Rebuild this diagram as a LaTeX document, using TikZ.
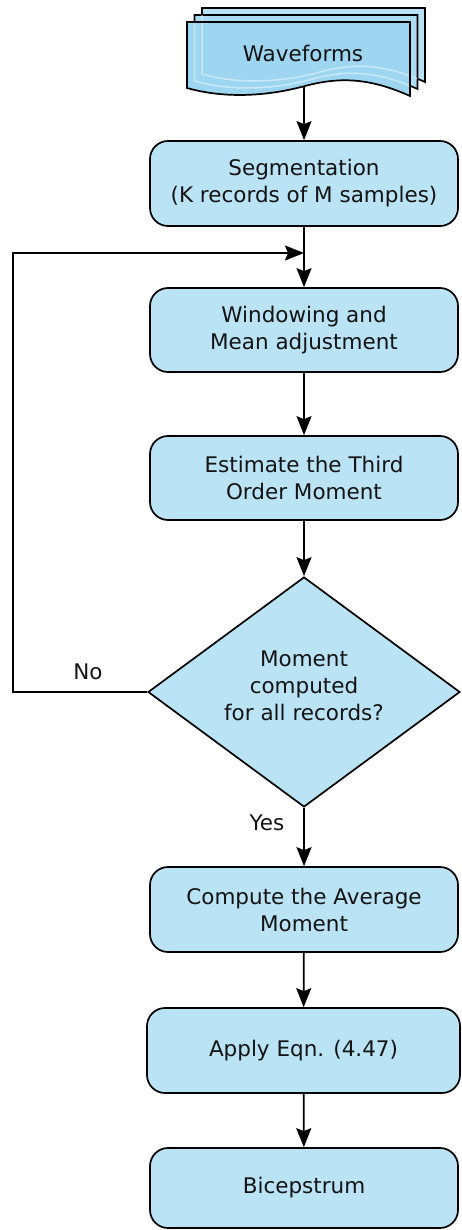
\documentclass[tikz,border=0pt]{standalone}
\usepackage{fontspec}
\setmainfont{DejaVu Sans}
\usetikzlibrary{shapes.geometric,arrows.meta}
\definecolor{boxblue}{RGB}{186,227,245}
\definecolor{docback}{RGB}{184,225,246}
\definecolor{docmid}{RGB}{172,220,243}
\definecolor{docfront}{RGB}{158,214,241}
\definecolor{inktext}{RGB}{20,20,20}
\begin{document}
\begin{tikzpicture}[x=1pt,y=-1pt,
  font=\fontsize{21.5}{27}\selectfont,
  every node/.style={text=inktext},
  stepbox/.style={draw=black, line width=1.7pt, fill=boxblue, rounded corners=18pt,
    minimum width=308pt, minimum height=85pt, align=center, inner sep=0pt},
  decision/.style={diamond, draw=black, line width=1.7pt, fill=boxblue,
    minimum width=312pt, minimum height=230pt, inner sep=0pt},
  arr/.style={line width=1.8pt, -{Stealth[length=19pt,width=15pt,inset=3pt]}},
  docline/.style={line width=1.7pt, draw=black},
  docpath/.style={insert path={(187,22) -- (410,22) -- (410,96)
      .. controls (372,79) and (342,76) .. (305,86)
      .. controls (268,96) and (226,99) .. (187,88) -- cycle}},
  ghost/.style={line width=1.5pt, draw=white, draw opacity=0.45},
]
\useasboundingbox (0,0) rectangle (461,1230);

% stacked waveform documents, back to front
\begin{scope}[shift={(15,-14)}]
  \fill[docback] [docpath];
  \draw[docline] [docpath];
\end{scope}
\begin{scope}[shift={(7.5,-7)}]
  \fill[docmid] [docpath];
  \draw[docline] [docpath];
\end{scope}
\fill[docfront] [docpath];
% edges of the rear sheets seen through the front ones
\begin{scope}
  \clip[shift={(7.5,-7)}] [docpath];
  \draw[ghost, shift={(15,-14)}] [docpath];
\end{scope}
\begin{scope}
  \clip [docpath];
  \draw[ghost, shift={(7.5,-7)}] [docpath];
\end{scope}
\draw[docline] [docpath];
\node (wave) at (303,53) {Waveforms};
\coordinate (wavebot) at (304,86);

% process steps
\node[stepbox] (seg)  at (304,183.5) {Segmentation\\(K records of M samples)};
\node[stepbox, minimum height=84pt] (win)  at (304,330) {Windowing and\\Mean adjustment};
\node[stepbox, minimum height=84pt] (est)  at (304,478) {Estimate the Third\\Order Moment};
\node[decision] (dia) at (304,692) {};
\node[align=center, inner sep=0pt] (diatext) at (304,686) {Moment\\computed\\for all records?};
\node[stepbox] (comp) at (304,909.5) {Compute the Average\\Moment};
\node[stepbox, minimum width=313pt] (apply) at (303.5,1050.5) {Apply Eqn. (4.47)};
\node[stepbox, minimum height=80pt] (bic)  at (304,1188) {Bicepstrum};

% connectors
\coordinate (loopin) at (304,253);
\draw[arr] (wavebot) -- (seg);
\draw[arr] (seg) -- (win);
\draw[arr] (win) -- (est);
\draw[arr] (est) -- (dia);
\draw[arr] (dia) -- (comp);
\draw[arr] (comp) -- (apply);
\draw[arr] (apply) -- (bic);
\draw[arr] (dia.west) -- ++(-134,0) |- (loopin);

% branch labels
\node (no)  at (88,672)  {No};
\node (yes) at (267,823) {Yes};
\end{tikzpicture}
\end{document}
